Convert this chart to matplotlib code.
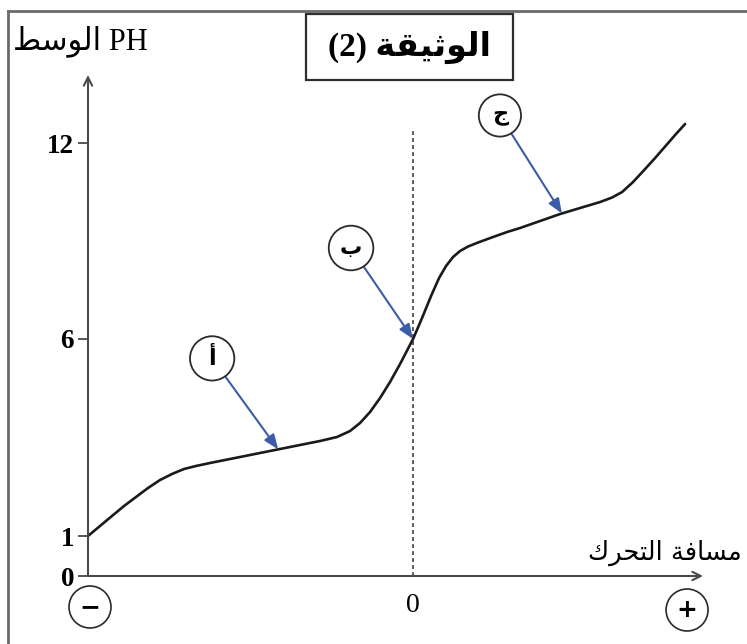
import numpy as np
import matplotlib
matplotlib.use("Agg")
import matplotlib.pyplot as plt
from matplotlib.patches import Rectangle
from matplotlib.lines import Line2D

# ---------------- data ----------------
distance = [-10.000, -9.631, -9.262, -8.892, -8.523, -8.154, -7.785, -7.415, -7.046, -6.677,
            -6.246, -5.785, -5.323, -4.708, -4.092, -3.477, -2.862, -2.338, -1.938, -1.631,
            -1.323, -1.015, -0.708, -0.400, 0.000, 0.277, 0.554, 0.800, 1.015, 1.231,
            1.446, 1.692, 2.000, 2.462, 2.892, 3.292, 3.908, 4.523, 5.138, 5.754,
            6.123, 6.431, 6.769, 7.138, 7.446, 7.754, 8.062, 8.369]
ph = [1.000, 1.254, 1.508, 1.761, 1.990, 2.218, 2.421, 2.574, 2.701, 2.777,
      2.853, 2.929, 3.005, 3.107, 3.208, 3.310, 3.411, 3.513, 3.665, 3.868,
      4.147, 4.503, 4.909, 5.365, 6.000, 6.643, 7.316, 7.867, 8.234, 8.510,
      8.694, 8.831, 8.954, 9.122, 9.275, 9.398, 9.612, 9.826, 10.010, 10.193,
      10.331, 10.499, 10.806, 11.203, 11.540, 11.892, 12.245, 12.582]

ph_ticks = [0, 1, 6, 12]
ph_tick_labels = ["0", "1", "6", "12"]
# the pH axis of the document is schematic (not uniform): height of each tick (px)
ph_tick_heights = [0, 40, 237, 433]

zone_labels = ["أ", "ب", "ج"]
zone_distance = [-4.15, 0.0, 4.58]

electrode_labels = ["−", "+"]
x_tick_labels = ["0"]

title_text = "الوثيقة (2)"
y_label = "PH الوسط"
x_label = "مسافة التحرك"

# ---------------- minimal Arabic shaping (presentation forms) ----------------
FORMS = {
    'ا': (0xFE8D, 0xFE8E, None, None),
    'أ': (0xFE83, 0xFE84, None, None),
    'ب': (0xFE8F, 0xFE90, 0xFE91, 0xFE92),
    'ة': (0xFE93, 0xFE94, None, None),
    'ت': (0xFE95, 0xFE96, 0xFE97, 0xFE98),
    'ث': (0xFE99, 0xFE9A, 0xFE9B, 0xFE9C),
    'ج': (0xFE9D, 0xFE9E, 0xFE9F, 0xFEA0),
    'ح': (0xFEA1, 0xFEA2, 0xFEA3, 0xFEA4),
    'ر': (0xFEAD, 0xFEAE, None, None),
    'س': (0xFEB1, 0xFEB2, 0xFEB3, 0xFEB4),
    'ط': (0xFEC1, 0xFEC2, 0xFEC3, 0xFEC4),
    'ف': (0xFED1, 0xFED2, 0xFED3, 0xFED4),
    'ق': (0xFED5, 0xFED6, 0xFED7, 0xFED8),
    'ك': (0xFED9, 0xFEDA, 0xFEDB, 0xFEDC),
    'ل': (0xFEDD, 0xFEDE, 0xFEDF, 0xFEE0),
    'م': (0xFEE1, 0xFEE2, 0xFEE3, 0xFEE4),
    'و': (0xFEED, 0xFEEE, None, None),
    'ي': (0xFEF1, 0xFEF2, 0xFEF3, 0xFEF4),
}


def shape_word(w):
    out = []
    for i, c in enumerate(w):
        if c not in FORMS:
            out.append(c)
            continue
        iso, fin, ini, med = FORMS[c]
        prev = w[i - 1] if i > 0 else None
        nxt = w[i + 1] if i + 1 < len(w) else None
        jp = prev in FORMS and FORMS[prev][2] is not None
        jn = nxt in FORMS and ini is not None
        g = med if (jp and jn) else fin if jp else ini if jn else iso
        out.append(chr(g))
    return "".join(out)


def rtl(text):
    words = text.split(" ")
    vis = []
    for w in reversed(words):
        if any(c in FORMS for c in w):
            vis.append(shape_word(w)[::-1])
        else:
            vis.append(w)
    return " ".join(vis)


# ---------------- schematic pH scale ----------------
T = np.array(ph_tick_heights, float)
P = np.array(ph_ticks, float)
slope_hi = (T[-1] - T[-2]) / (P[-1] - P[-2])
slope_lo = (T[1] - T[0]) / (P[1] - P[0])


def fwd(v):
    v = np.asarray(v, float)
    o = np.interp(v, P, T)
    o = np.where(v > P[-1], T[-1] + (v - P[-1]) * slope_hi, o)
    o = np.where(v < P[0], T[0] + (v - P[0]) * slope_lo, o)
    return o


def inv(h):
    h = np.asarray(h, float)
    o = np.interp(h, T, P)
    o = np.where(h > T[-1], P[-1] + (h - T[-1]) / slope_hi, o)
    o = np.where(h < T[0], P[0] + (h - T[0]) / slope_lo, o)
    return o


# ---------------- figure ----------------
W, H = 747, 644
fig = plt.figure(figsize=(W / 100, H / 100), dpi=100)
fig.patch.set_facecolor("white")

ax = fig.add_axes([88 / W, (H - 576) / H, (703 - 88) / W, 501 / H])
ax.set_yscale("function", functions=(fwd, inv))
xmin, xmax = -10.0, 8.92
ax.set_xlim(xmin, xmax)
ax.set_ylim(0, float(inv(501)))
for s in ax.spines.values():
    s.set_visible(False)
ax.patch.set_alpha(0)

axis_col = "#4a4a4a"
# axes with arrows
ax.annotate("", xy=(xmax, 0), xytext=(xmin, 0),
            arrowprops=dict(arrowstyle="->,head_length=0.6,head_width=0.3",
                            lw=1.5, color=axis_col, shrinkA=0, shrinkB=0),
            annotation_clip=False)
ax.annotate("", xy=(xmin, ax.get_ylim()[1]), xytext=(xmin, 0),
            arrowprops=dict(arrowstyle="->,head_length=0.6,head_width=0.3",
                            lw=1.5, color=axis_col, shrinkA=0, shrinkB=0),
            annotation_clip=False)

# ticks
ax.set_yticks(ph_ticks)
ax.set_yticklabels(ph_tick_labels, fontfamily="Liberation Serif",
                   fontweight="bold", fontsize=19.5)
ax.tick_params(axis="y", direction="out", length=7, width=1.3,
               color=axis_col, pad=3)
ax.set_xticks([0])
ax.set_xticklabels(x_tick_labels, fontfamily="Liberation Serif", fontsize=20)
ax.tick_params(axis="x", length=0, pad=12)
ax.yaxis.set_minor_locator(matplotlib.ticker.NullLocator())

# dotted reference line at distance 0
ax.axvline(0, ymin=0, ymax=448 / 501, color="#5a5a5a", lw=1.4,
           linestyle=(0, (2.0, 1.6)))

# curve
ax.plot(distance, ph, color="#1a1a1a", lw=1.9, solid_capstyle="round",
        solid_joinstyle="round", clip_on=False)

# zone labels with blue arrows
arrow_col = "#3c5ca8"
offsets = [(-66, 91), (-62, 91), (-62, 98)]
for lab, xd, off in zip(zone_labels, zone_distance, offsets):
    yd = float(np.interp(xd, distance, ph))
    ax.annotate(lab, xy=(xd, yd), xytext=off, textcoords="offset pixels",
                ha="center", va="center", fontsize=16, fontweight="bold",
                family="DejaVu Sans",
                bbox=dict(boxstyle="circle,pad=0.5", fc="white",
                          ec="#2a2a2a", lw=1.3),
                arrowprops=dict(arrowstyle="-|>,head_length=0.55,head_width=0.22",
                                color=arrow_col, lw=1.5, shrinkA=0, shrinkB=0),
                annotation_clip=False)

# electrodes
for lab, xd, off in zip(electrode_labels, [xmin, 8.43], [(2, -31), (0, -34)]):
    ax.annotate(lab, xy=(xd, 0), xytext=off, textcoords="offset pixels",
                ha="center", va="center", fontsize=18, fontweight="bold",
                family="DejaVu Sans",
                bbox=dict(boxstyle="circle,pad=0.36", fc="white",
                          ec="#2a2a2a", lw=1.2),
                annotation_clip=False)

# axis titles
fig.text(148 / W, (H - 41) / H, rtl(y_label), ha="right", va="center",
         fontsize=22, family=["Liberation Serif", "DejaVu Sans"])
fig.text(742 / W, (H - 553) / H, rtl(x_label), ha="right", va="center",
         fontsize=18.5, family="DejaVu Sans")

# title box
fig.add_artist(Rectangle((306 / W, (H - 80) / H), (513 - 306) / W, 66 / H,
                         transform=fig.transFigure, fill=False,
                         ec="#2e2e2e", lw=1.6))
fig.text(409.5 / W, (H - 47) / H, rtl(title_text), ha="center", va="center",
         fontsize=24, fontweight="bold",
         family=["Liberation Serif", "DejaVu Sans"])

# outer document frame
fig.add_artist(Line2D([8 / W, 8 / W], [0, (H - 11) / H], transform=fig.transFigure,
                      color="#6a6a6a", lw=2.0))
fig.add_artist(Line2D([8 / W, 1.0], [(H - 11) / H, (H - 11) / H],
                      transform=fig.transFigure, color="#6a6a6a", lw=2.0))

fig.savefig("out.png", dpi=100, facecolor="white")
